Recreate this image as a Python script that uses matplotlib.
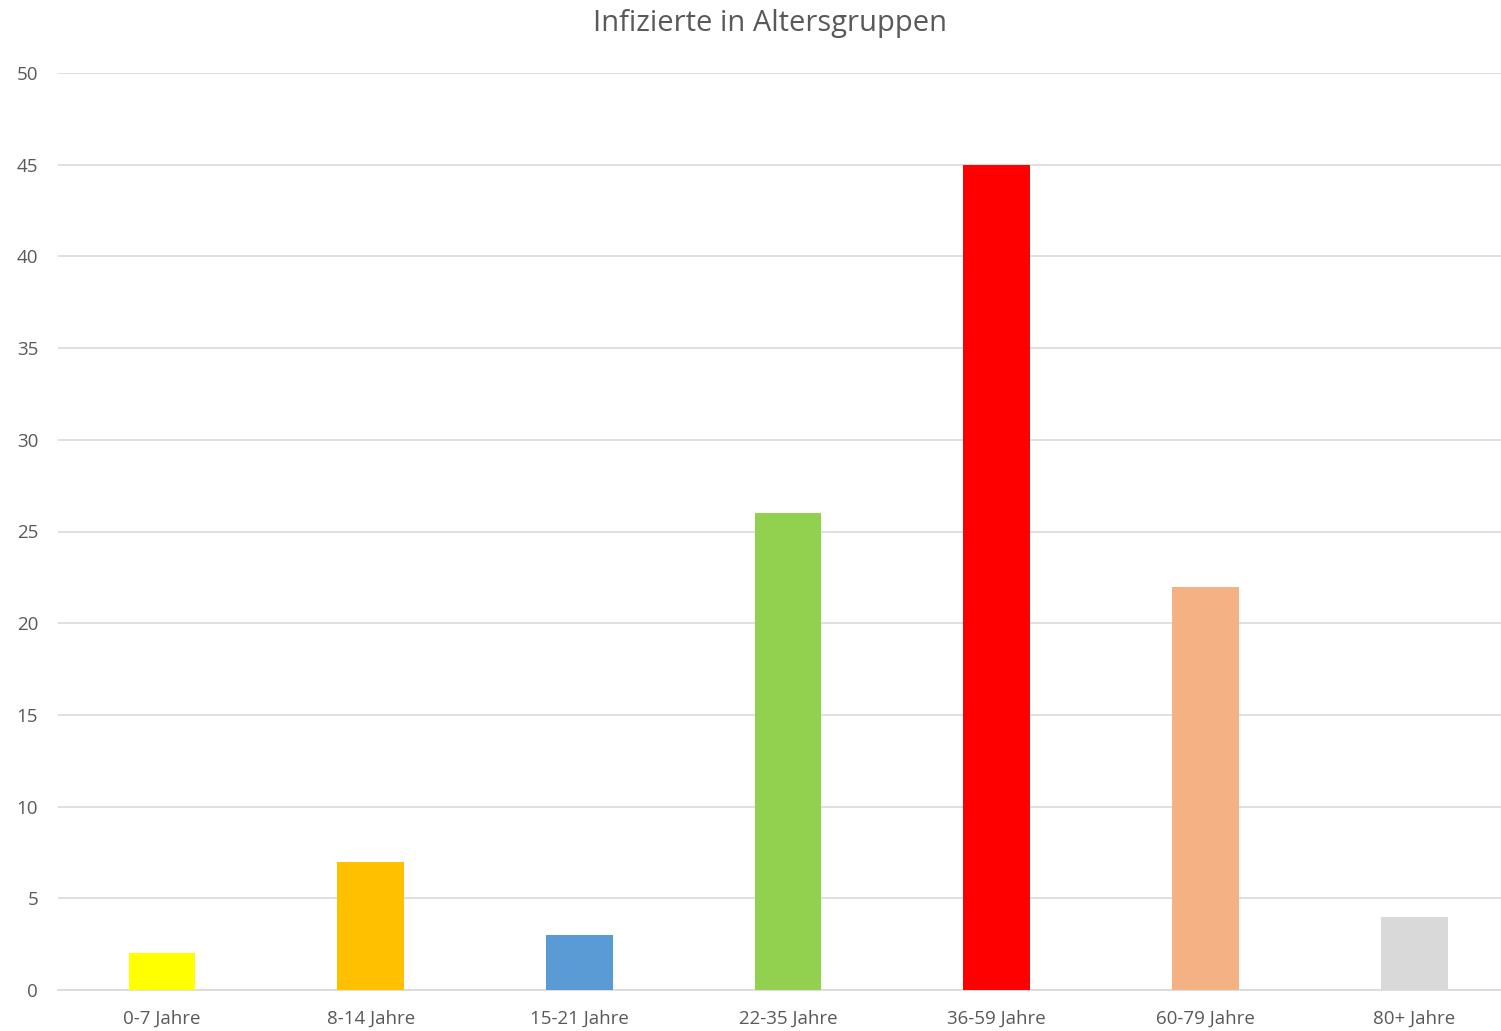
import matplotlib
matplotlib.use("Agg")
import matplotlib.pyplot as plt

categories = ["0-7 Jahre", "8-14 Jahre", "15-21 Jahre", "22-35 Jahre", "36-59 Jahre", "60-79 Jahre", "80+ Jahre"]
values = [2, 7, 3, 26, 45, 22, 4]
colors = ["#FFFF00", "#FFC000", "#5B9BD5", "#92D050", "#FF0000", "#F4B183", "#D9D9D9"]
yticks = [0, 5, 10, 15, 20, 25, 30, 35, 40, 45, 50]

plt.rcParams['font.family'] = ['Open Sans', 'DejaVu Sans']

fig = plt.figure(figsize=(15.01, 10.31), dpi=100)
ax = fig.add_axes([57.6/1501, 41/1031, 1461/1501, 917/1031])
x = list(range(len(categories)))
ax.bar(x, values, width=0.32, color=colors, zorder=3)
ax.set_xlim(-0.5, len(categories) - 0.5)
ax.set_ylim(0, 50)
ax.set_yticks(yticks)
ax.set_xticks(x)
ax.set_xticklabels(categories)
ax.grid(axis='y', color='#D9D9D9', linewidth=1.2, zorder=0)
for s in ['top', 'right', 'left']:
    ax.spines[s].set_visible(False)
ax.spines['bottom'].set_color('#D9D9D9')
ax.spines['bottom'].set_linewidth(1.2)
ax.tick_params(axis='both', length=0, colors='#595959', labelsize=13.5)
ax.tick_params(axis='x', pad=14)
ax.tick_params(axis='y', pad=14)
fig.text(770/1501, 1 - 23/1031, "Infizierte in Altersgruppen", ha='center', va='center', fontsize=21, color='#595959')
fig.savefig("out.png", dpi=100, facecolor='white')
